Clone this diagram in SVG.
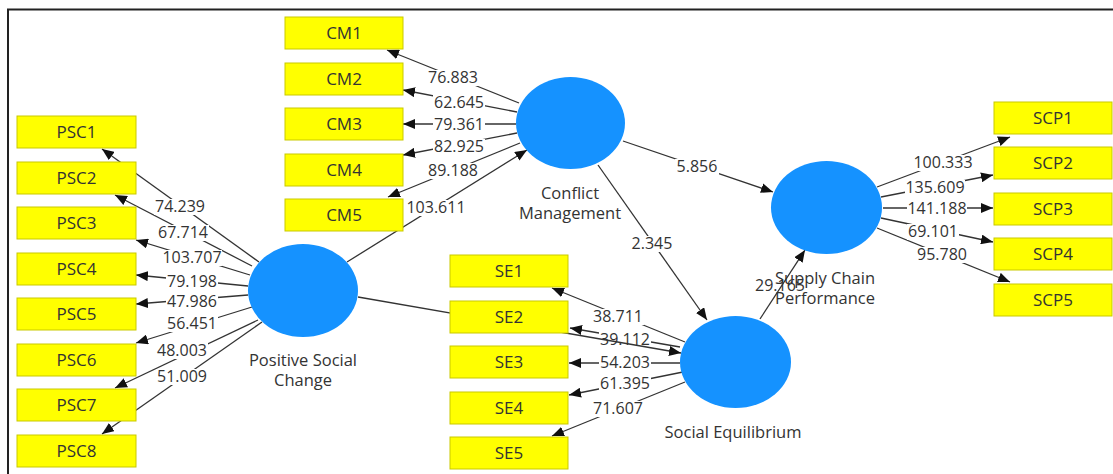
<svg xmlns="http://www.w3.org/2000/svg" width="1113" height="474" viewBox="0 0 1113 474">
<style>
.box{fill:#ffff00;stroke:#c9c900;stroke-width:1}
.bt{font-family:"Open Sans","Noto Sans",sans-serif;font-size:17px;fill:#333;text-anchor:middle}
.lv{fill:#1592ff}
.lt{font-family:"Open Sans","Noto Sans",sans-serif;font-size:16.5px;fill:#333;text-anchor:middle}
.ln{stroke:#333;stroke-width:1.3;fill:none;marker-end:url(#ah)}
.nl{font-family:"Open Sans","Noto Sans",sans-serif;font-size:16px;fill:#333;text-anchor:middle}
.bg{fill:#fff}
</style>
<defs>
<marker id="ah" markerUnits="userSpaceOnUse" markerWidth="12" markerHeight="10" refX="12" refY="5" orient="auto">
<path d="M0,0 L12,5 L0,10 z" fill="#111"/>
</marker>
</defs>
<rect width="1113" height="474" fill="#fff"/>
<path d="M7,9.5 H1113 M8,9 V474" stroke="#222" stroke-width="2" fill="none"/>
<g id="connectors">
<line class="ln" x1="259" y1="262" x2="102" y2="149"/>
<line class="ln" x1="252" y1="266" x2="115" y2="195"/>
<line class="ln" x1="250" y1="275" x2="136" y2="240"/>
<line class="ln" x1="248" y1="286" x2="136" y2="275"/>
<line class="ln" x1="248" y1="295" x2="136" y2="304"/>
<line class="ln" x1="252" y1="307" x2="136" y2="343"/>
<line class="ln" x1="258" y1="320" x2="115" y2="388"/>
<line class="ln" x1="262" y1="322" x2="102" y2="434"/>
<line class="ln" x1="519" y1="103" x2="387" y2="50"/>
<line class="ln" x1="517" y1="112" x2="403" y2="90"/>
<line class="ln" x1="516" y1="124" x2="403" y2="124"/>
<line class="ln" x1="517" y1="133" x2="403" y2="155"/>
<line class="ln" x1="520" y1="143" x2="388" y2="197"/>
<line class="ln" x1="347" y1="262" x2="527" y2="150"/>
<line class="ln" x1="685" y1="342" x2="552" y2="288"/>
<line class="ln" x1="680" y1="347" x2="570" y2="328"/>
<line class="ln" x1="680" y1="363" x2="569" y2="363"/>
<line class="ln" x1="683" y1="372" x2="569" y2="395"/>
<line class="ln" x1="685" y1="382" x2="552" y2="436"/>
<line class="ln" x1="598" y1="165" x2="707" y2="320"/>
<line class="ln" x1="623" y1="141" x2="773" y2="192"/>
<line class="ln" x1="760" y1="319" x2="805" y2="250"/>
<line class="ln" x1="877" y1="187" x2="1010" y2="137"/>
<line class="ln" x1="881" y1="197" x2="993" y2="175"/>
<line class="ln" x1="883" y1="208" x2="993" y2="208"/>
<line class="ln" x1="881" y1="218" x2="993" y2="242"/>
<line class="ln" x1="877" y1="228" x2="1010" y2="282"/>
<g class="bg">
<rect x="154" y="199" width="52" height="16"/>
<rect x="157" y="225" width="52" height="16"/>
<rect x="162" y="250" width="60" height="16"/>
<rect x="166" y="274" width="52" height="16"/>
<rect x="166" y="294" width="52" height="16"/>
<rect x="166" y="316" width="52" height="16"/>
<rect x="156" y="343" width="52" height="16"/>
<rect x="156" y="369" width="52" height="16"/>
<rect x="427" y="70" width="52" height="16"/>
<rect x="433" y="95" width="52" height="16"/>
<rect x="433" y="117" width="52" height="16"/>
<rect x="433" y="139" width="52" height="16"/>
<rect x="427" y="163" width="52" height="16"/>
<rect x="406" y="200" width="60" height="16"/>
<rect x="592" y="309" width="52" height="16"/>
<rect x="599" y="332" width="52" height="16"/>
<rect x="599" y="355" width="52" height="16"/>
<rect x="599" y="376" width="52" height="16"/>
<rect x="592" y="401" width="52" height="16"/>
<rect x="630" y="236" width="44" height="16"/>
<rect x="675" y="159" width="44" height="16"/>
<rect x="913" y="155" width="60" height="16"/>
<rect x="905" y="180" width="60" height="16"/>
<rect x="907" y="201" width="60" height="16"/>
<rect x="907" y="224" width="52" height="16"/>
<rect x="916" y="247" width="52" height="16"/>
</g>
<line class="ln" x1="358" y1="297" x2="681" y2="353"/>
<text class="nl" x="180" y="212">74.239</text>
<text class="nl" x="183" y="238">67.714</text>
<text class="nl" x="192" y="263">103.707</text>
<text class="nl" x="192" y="287">79.198</text>
<text class="nl" x="192" y="307">47.986</text>
<text class="nl" x="192" y="329">56.451</text>
<text class="nl" x="182" y="356">48.003</text>
<text class="nl" x="182" y="382">51.009</text>
<text class="nl" x="453" y="83">76.883</text>
<text class="nl" x="459" y="108">62.645</text>
<text class="nl" x="459" y="130">79.361</text>
<text class="nl" x="459" y="152">82.925</text>
<text class="nl" x="453" y="176">89.188</text>
<text class="nl" x="436" y="213">103.611</text>
<text class="nl" x="618" y="322">38.711</text>
<text class="nl" x="625" y="345">39.112</text>
<text class="nl" x="625" y="368">54.203</text>
<text class="nl" x="625" y="389">61.395</text>
<text class="nl" x="618" y="414">71.607</text>
<text class="nl" x="652" y="249">2.345</text>
<text class="nl" x="697" y="172">5.856</text>
<text class="nl" x="780" y="291">29.165</text>
<text class="nl" x="943" y="168">100.333</text>
<text class="nl" x="935" y="193">135.609</text>
<text class="nl" x="937" y="214">141.188</text>
<text class="nl" x="933" y="237">69.101</text>
<text class="nl" x="942" y="260">95.780</text>
</g>
<g id="PSC1"><rect class="box" x="17" y="116" width="119" height="32"/><text class="bt" x="76.5" y="138">PSC1</text></g>
<g id="PSC2"><rect class="box" x="17" y="162" width="119" height="32"/><text class="bt" x="76.5" y="184">PSC2</text></g>
<g id="PSC3"><rect class="box" x="17" y="207" width="119" height="32"/><text class="bt" x="76.5" y="229">PSC3</text></g>
<g id="PSC4"><rect class="box" x="17" y="253" width="119" height="32"/><text class="bt" x="76.5" y="275">PSC4</text></g>
<g id="PSC5"><rect class="box" x="17" y="298" width="119" height="32"/><text class="bt" x="76.5" y="320">PSC5</text></g>
<g id="PSC6"><rect class="box" x="17" y="344" width="119" height="32"/><text class="bt" x="76.5" y="366">PSC6</text></g>
<g id="PSC7"><rect class="box" x="17" y="389" width="119" height="32"/><text class="bt" x="76.5" y="411">PSC7</text></g>
<g id="PSC8"><rect class="box" x="17" y="435" width="119" height="32"/><text class="bt" x="76.5" y="457">PSC8</text></g>
<g id="CM1"><rect class="box" x="285" y="17" width="118" height="32"/><text class="bt" x="344" y="39">CM1</text></g>
<g id="CM2"><rect class="box" x="285" y="63" width="118" height="32"/><text class="bt" x="344" y="85">CM2</text></g>
<g id="CM3"><rect class="box" x="285" y="108" width="118" height="32"/><text class="bt" x="344" y="130">CM3</text></g>
<g id="CM4"><rect class="box" x="285" y="154" width="118" height="32"/><text class="bt" x="344" y="176">CM4</text></g>
<g id="CM5"><rect class="box" x="285" y="199" width="118" height="32"/><text class="bt" x="344" y="221">CM5</text></g>
<g id="SE1"><rect class="box" x="450" y="255" width="118" height="32"/><text class="bt" x="509" y="277">SE1</text></g>
<g id="SE2"><rect class="box" x="450" y="301" width="118" height="32"/><text class="bt" x="509" y="323">SE2</text></g>
<g id="SE3"><rect class="box" x="450" y="346" width="118" height="32"/><text class="bt" x="509" y="368">SE3</text></g>
<g id="SE4"><rect class="box" x="450" y="392" width="118" height="32"/><text class="bt" x="509" y="414">SE4</text></g>
<g id="SE5"><rect class="box" x="450" y="437" width="118" height="32"/><text class="bt" x="509" y="459">SE5</text></g>
<g id="SCP1"><rect class="box" x="994" y="102" width="118" height="32"/><text class="bt" x="1053" y="124">SCP1</text></g>
<g id="SCP2"><rect class="box" x="994" y="147" width="118" height="32"/><text class="bt" x="1053" y="169">SCP2</text></g>
<g id="SCP3"><rect class="box" x="994" y="193" width="118" height="32"/><text class="bt" x="1053" y="215">SCP3</text></g>
<g id="SCP4"><rect class="box" x="994" y="238" width="118" height="32"/><text class="bt" x="1053" y="260">SCP4</text></g>
<g id="SCP5"><rect class="box" x="994" y="284" width="118" height="32"/><text class="bt" x="1053" y="306">SCP5</text></g>
<g id="PositiveSocialChange"><ellipse class="lv" cx="303" cy="290.5" rx="55" ry="46.5"/><text class="lt" x="303" y="366">Positive Social</text><text class="lt" x="303" y="386">Change</text></g>
<g id="ConflictManagement"><ellipse class="lv" cx="570.5" cy="123" rx="54.5" ry="46"/><text class="lt" x="570" y="199">Conflict</text><text class="lt" x="570" y="219">Management</text></g>
<g id="SocialEquilibrium"><ellipse class="lv" cx="735.5" cy="362" rx="55.5" ry="46"/><text class="lt" x="733" y="438">Social Equilibrium</text></g>
<g id="SupplyChainPerformance"><ellipse class="lv" cx="826.5" cy="207.5" rx="55.5" ry="46.5"/><text class="lt" x="825" y="284">Supply Chain</text><text class="lt" x="825" y="304">Performance</text></g>
</svg>
